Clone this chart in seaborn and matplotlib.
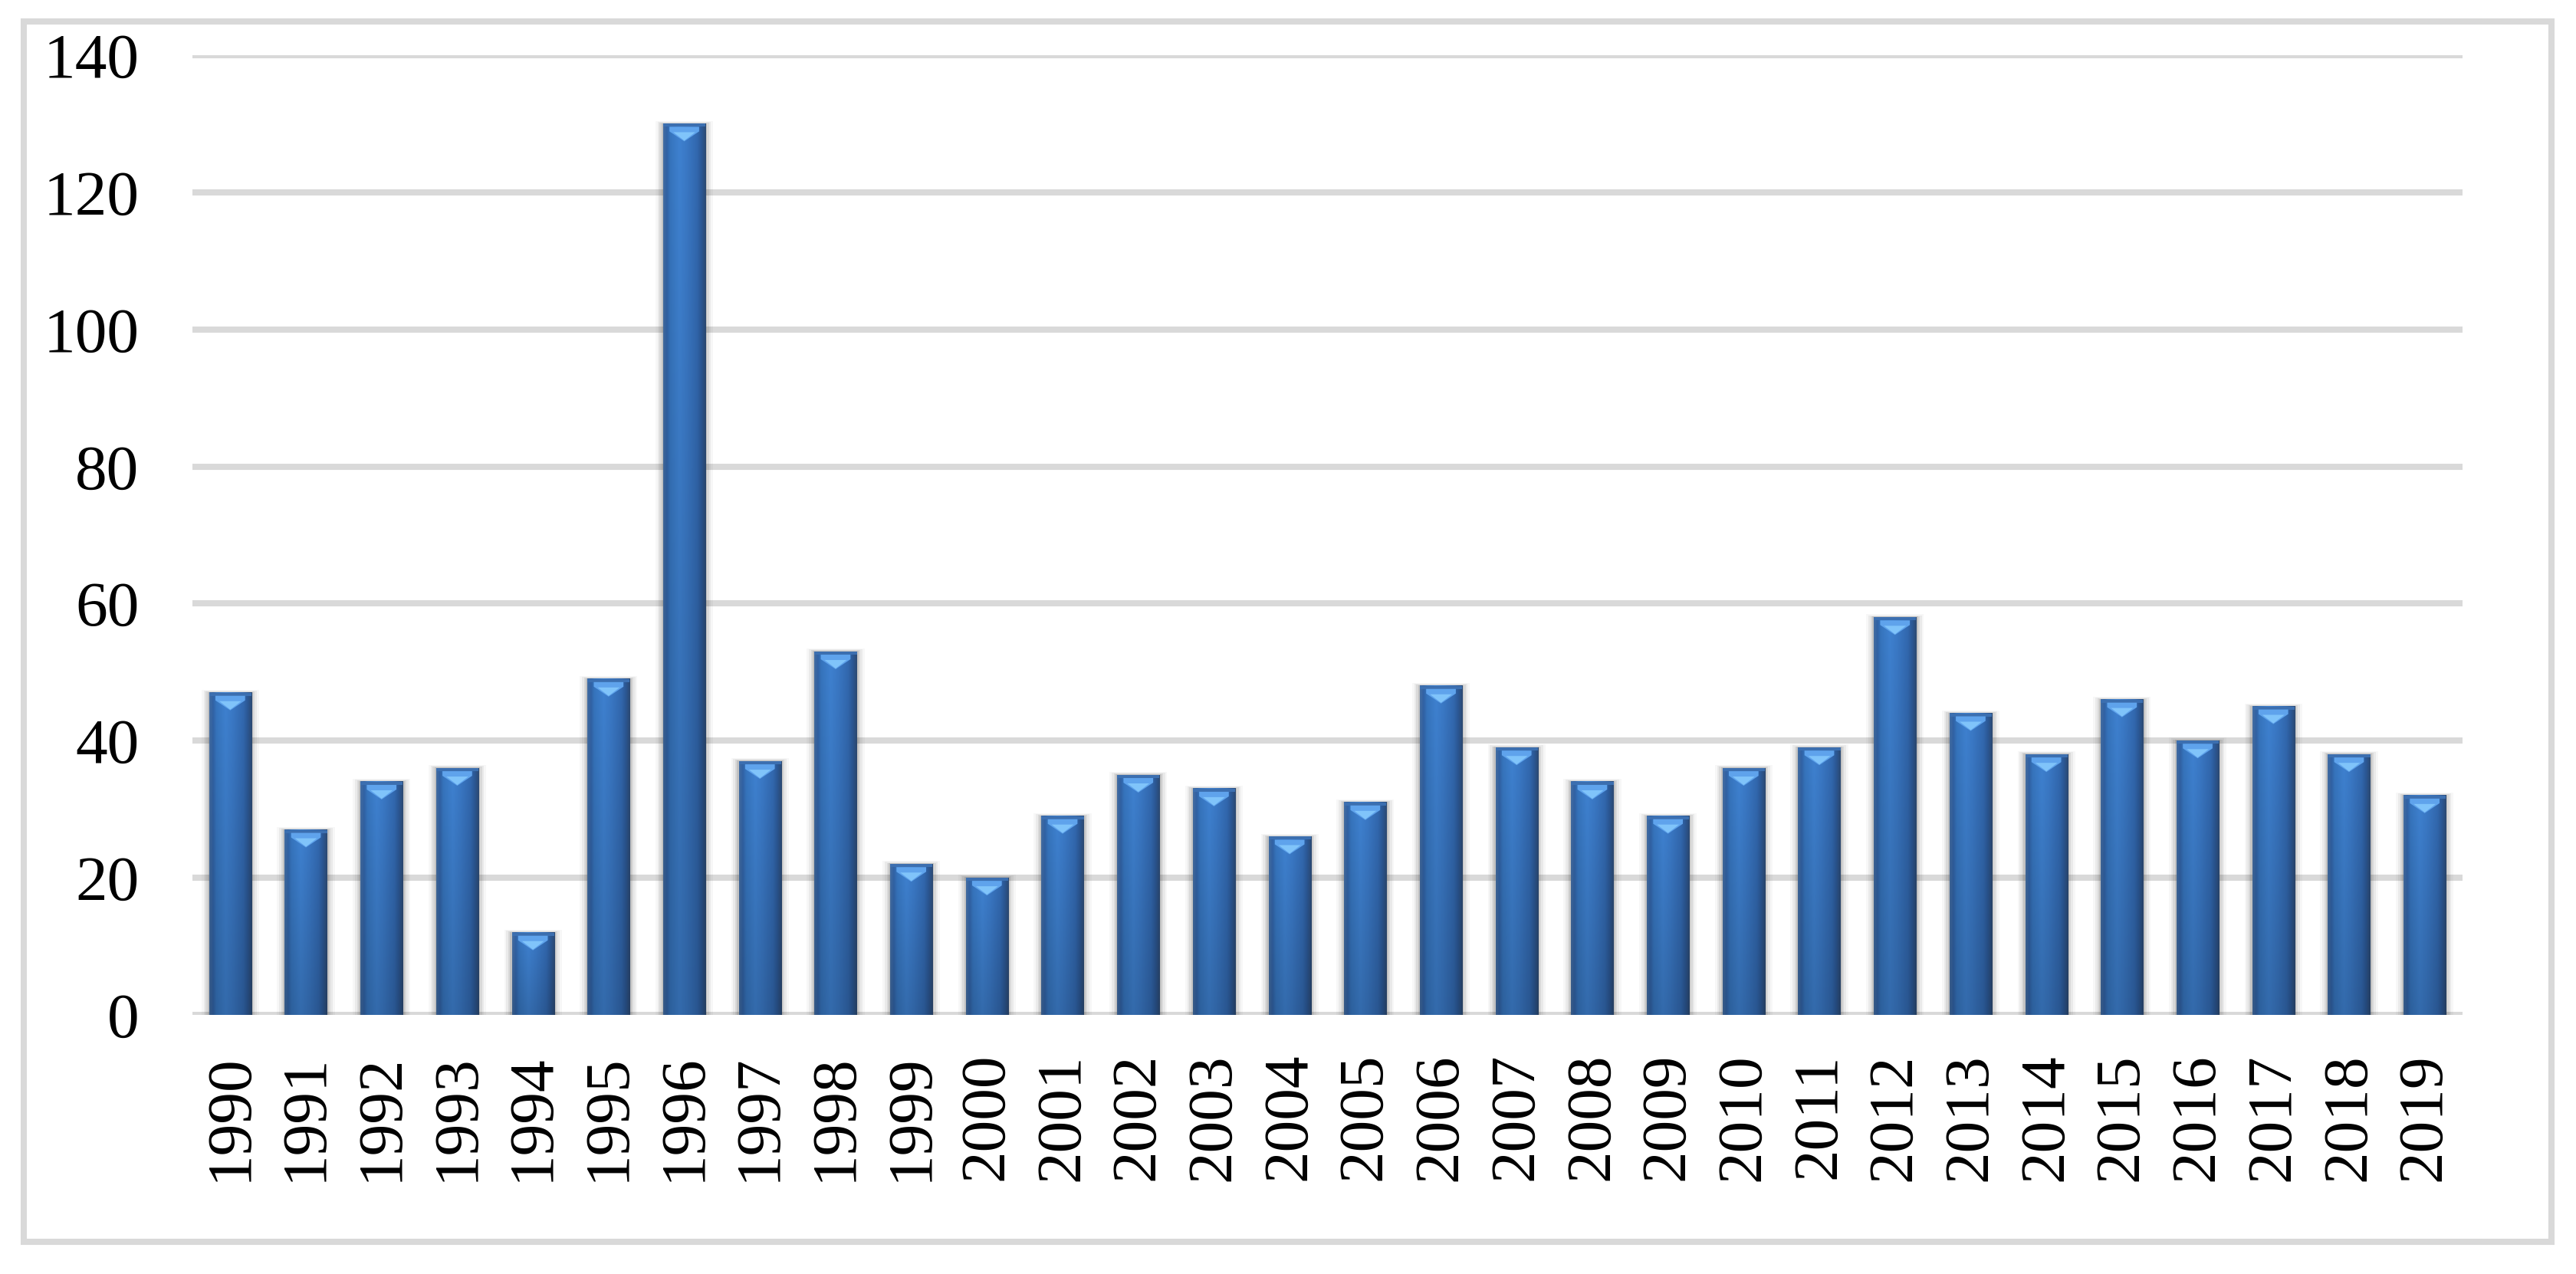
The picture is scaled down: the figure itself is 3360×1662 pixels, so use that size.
import numpy as np
import pandas as pd
import matplotlib
matplotlib.use("Agg")
import matplotlib.pyplot as plt
import seaborn as sns
from matplotlib.patches import Rectangle, Polygon
from matplotlib.colors import to_rgb

years = [str(y) for y in range(1990, 2020)]
values = [47, 27, 34, 36, 12, 49, 130, 37, 53, 22,
          20, 29, 35, 33, 26, 31, 48, 39, 34, 29,
          36, 39, 58, 44, 38, 46, 40, 45, 38, 32]
yticks = [0, 20, 40, 60, 80, 100, 120, 140]

df = pd.DataFrame({"year": years, "value": values})

sns.set_style("white")
plt.rcParams["font.family"] = ["Liberation Serif", "DejaVu Serif"]

fig = plt.figure(figsize=(33.6, 16.62), dpi=100)
ax = fig.add_axes([251 / 3360, 338 / 1662, 2961 / 3360, 1252 / 1662])

grid_c = "#D9D9D9"
sns.barplot(data=df, x="year", y="value", color="#3A75BE", saturation=1,
            width=0.56, ax=ax, zorder=2)

# horizontal shading profile across a bar (cylinder look)
stops = [0.0, 0.08, 0.16, 0.38, 0.55, 0.80, 0.90, 1.0]
cols = ["#41699C", "#2F5E9E", "#3470B6", "#3C7CC8", "#3874BE", "#3064A8", "#2A5590", "#2B4870"]
cols = np.array([to_rgb(c) for c in cols])
nx, ny = 60, 100
xs = np.linspace(0, 1, nx)
prof = np.stack([np.interp(xs, stops, cols[:, k]) for k in range(3)], axis=1)
vert = np.linspace(1.04, 0.86, ny)[:, None, None]
img = np.clip(prof[None, :, :] * vert, 0, 1)

px_y = 1252 / 140.0  # pixels per data unit (vertical)

for p in ax.patches:
    x0, w, h = p.get_x(), p.get_width(), p.get_height()
    x1, xc = x0 + w, x0 + w / 2
    # soft shadow
    for k, a in zip([0.36, 0.26, 0.16, 0.08], [0.03, 0.05, 0.07, 0.10]):
        ax.add_patch(Rectangle((x0 - k * w * 0.5, 0), w * (1 + k), h + 1.2 * k,
                               facecolor="black", alpha=a, lw=0, zorder=1.5))
    ax.imshow(img, extent=(x0, x1, 0, h), aspect="auto",
              interpolation="bilinear", zorder=3)
    # top edge line
    ax.add_patch(Rectangle((x0, h - 4 / px_y), w, 4 / px_y,
                           facecolor="#3C6FB0", lw=0, zorder=4))
    # bevel highlight
    t1 = h - 4 / px_y
    ax.add_patch(Polygon([(x0 + 0.15 * w, t1), (x1 - 0.15 * w, t1),
                          (x1 - 0.15 * w, t1 - 6 / px_y), (xc, h - 23 / px_y),
                          (x0 + 0.15 * w, t1 - 6 / px_y)],
                         closed=True, facecolor="#5FA3EC", lw=0, zorder=4))
    ax.add_patch(Polygon([(x0 + 0.24 * w, t1 - 7 / px_y), (x1 - 0.24 * w, t1 - 7 / px_y),
                          (xc, h - 22 / px_y)],
                         closed=True, facecolor="#80C4FA", lw=0, zorder=4))
    p.set_visible(False)

ax.set_xlim(-0.5, len(years) - 0.5)
ax.set_ylim(0, 140)
ax.set_yticks(yticks)
ax.yaxis.grid(True, color=grid_c, linewidth=5.8)
ax.set_axisbelow(True)
for s in ax.spines.values():
    s.set_visible(False)
ax.set_xlabel("")
ax.set_ylabel("")
ax.tick_params(axis="y", length=0, pad=50, labelsize=60, labelcolor="black")
ax.tick_params(axis="x", length=0, pad=36, labelsize=60, rotation=90, labelcolor="black")

fig.patches.append(Rectangle((31 / 3360, (1662 - 1620) / 1662), 3297 / 3360, 1592.5 / 1662,
                             transform=fig.transFigure, fill=False, edgecolor=grid_c,
                             linewidth=5.8))

fig.savefig("out.png", dpi=100, facecolor="white")
